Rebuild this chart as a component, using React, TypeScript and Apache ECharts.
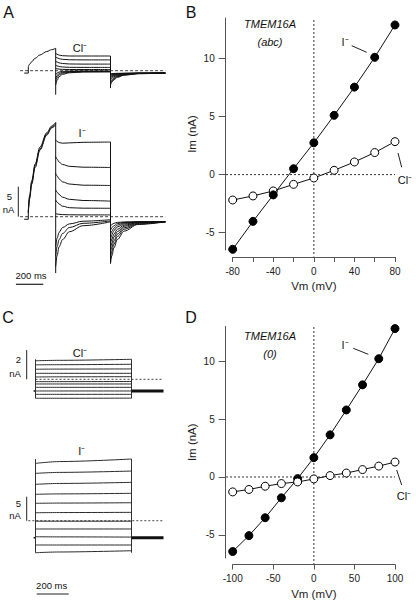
import React, { useEffect, useRef } from "react";
import * as echarts from "echarts";

const FONT = "'Liberation Sans', Arial, Helvetica, sans-serif";
const INK = "#111";
const AXIS = "#555";

// ---------- Panel B : TMEM16A (abc) I-V ----------
const B_VM = [-80, -60, -40, -20, 0, 20, 40, 60, 80];
const B_IODIDE = [-6.44, -4.03, -1.75, 0.51, 2.74, 5.11, 7.54, 10.11, 12.9];
const B_CHLORIDE = [-2.19, -1.84, -1.41, -0.84, -0.29, 0.37, 1.09, 1.9, 2.84];
const B_X_TICKS = [-80, -60, -40, -20, 0, 20, 40, 60, 80];
const B_X_LABELS = [-80, -40, 0, 40, 80];
const IV_Y_TICKS = [-5, 0, 5, 10];

// ---------- Panel D : TMEM16A (0) I-V ----------
const D_VM = [-100, -80, -60, -40, -20, 0, 20, 40, 60, 80, 100];
const D_IODIDE = [-6.44, -5.07, -3.52, -1.8, -0.14, 1.67, 3.64, 5.79, 7.96, 10.22, 12.82];
const D_CHLORIDE = [-1.29, -1.08, -0.8, -0.57, -0.43, -0.17, 0.12, 0.34, 0.64, 0.94, 1.29];
const D_X_TICKS = [-100, -50, 0, 50, 100];

// ---------- Panel A : current traces (ms, nA) ----------
const A_HOLD_T = [-30, 0];
const A_PRE_T = [0, 10, 25, 50, 85, 135, 170, 200];
const A_TEST_T = [200, 210, 225, 250, 300, 400, 600];
const A_TAIL_T = [600, 610, 625, 650, 700, 800, 1000];

const A_CL_HOLD = -0.4;
const A_CL_PRE = [0.67, 1.1, 1.5, 2.07, 2.62, 3.2, 3.5, 3.73];
const A_CL_TEST = [
  [2.9, 2.75, 2.6, 2.5, 2.45, 2.45, 2.45],
  [2.3, 2.15, 2.0, 1.9, 1.82, 1.8, 1.8],
  [1.6, 1.45, 1.3, 1.2, 1.12, 1.1, 1.1],
  [0.95, 0.8, 0.7, 0.62, 0.56, 0.55, 0.55],
  [0.4, 0.32, 0.26, 0.22, 0.2, 0.2, 0.2],
  [-0.7, -0.4, -0.22, -0.12, -0.06, -0.05, -0.05],
  [-1.3, -0.8, -0.45, -0.28, -0.15, -0.1, -0.1],
  [-1.8, -1.15, -0.7, -0.42, -0.25, -0.16, -0.15],
  [-2.4, -1.6, -1.0, -0.6, -0.35, -0.22, -0.2],
];
const A_CL_TAIL = [
  [-2.4, -1.9, -1.5, -1.1, -0.75, -0.5, -0.4],
  [-2.1, -1.7, -1.35, -1.0, -0.7, -0.48, -0.4],
  [-1.8, -1.5, -1.2, -0.9, -0.65, -0.47, -0.4],
  [-1.5, -1.25, -1.0, -0.8, -0.6, -0.45, -0.4],
  [-1.2, -1.0, -0.85, -0.7, -0.55, -0.44, -0.4],
  [-1.0, -0.85, -0.72, -0.6, -0.5, -0.43, -0.4],
  [-0.8, -0.7, -0.62, -0.54, -0.47, -0.42, -0.4],
  [-0.65, -0.6, -0.55, -0.5, -0.45, -0.41, -0.4],
  [-0.5, -0.48, -0.46, -0.44, -0.42, -0.4, -0.4],
];
const A_CL_SPIKES = [-4.0, -2.9];

const A_I_HOLD = -0.43;
const A_I_PRE = [
  [1.0, 3.6, 6.0, 8.8, 11.6, 14.0, 15.1, 15.7],
  [0.8, 3.3, 5.7, 8.5, 11.3, 13.8, 14.9, 15.5],
  [0.6, 3.0, 5.4, 8.2, 11.1, 13.6, 14.8, 15.3],
];
const A_I_TEST = [
  [12.8, 12.55, 12.35, 12.25, 12.3, 12.4, 12.45],
  [10.0, 9.6, 9.1, 8.7, 8.4, 8.25, 8.2],
  [7.2, 6.8, 6.3, 5.8, 5.45, 5.25, 5.2],
  [4.45, 4.1, 3.7, 3.25, 2.9, 2.7, 2.6],
  [2.78, 2.45, 2.1, 1.75, 1.5, 1.42, 1.4],
  [0.5, 0.45, 0.4, 0.35, 0.32, 0.3, 0.3],
  [-5.0, -3.6, -2.6, -1.8, -1.2, -0.75, -0.5],
  [-6.6, -5.0, -3.8, -2.8, -1.8, -1.1, -0.7],
  [-8.3, -6.5, -5.0, -3.8, -2.5, -1.5, -0.85],
];
const A_I_TAIL = [
  [-7.8, -6.5, -5.2, -3.8, -2.4, -1.3, -0.85],
  [-7.0, -5.8, -4.6, -3.3, -2.1, -1.2, -0.85],
  [-6.2, -5.1, -4.0, -2.9, -1.85, -1.1, -0.85],
  [-5.4, -4.4, -3.4, -2.5, -1.6, -1.0, -0.85],
  [-4.6, -3.7, -2.9, -2.1, -1.4, -0.95, -0.85],
  [-3.8, -3.0, -2.3, -1.7, -1.2, -0.9, -0.85],
  [-3.0, -2.4, -1.9, -1.4, -1.05, -0.88, -0.85],
  [-2.3, -1.8, -1.5, -1.15, -0.95, -0.86, -0.85],
  [-1.6, -1.3, -1.1, -0.95, -0.88, -0.85, -0.85],
];
const A_I_SPIKES = [-9.4, -7.8];

// ---------- Panel C : current traces (ms, nA) ----------
const C_HOLD_T = [-12, 0];
const C_TEST_T = [0, 150, 600];
const C_TAIL_T = [600, 800];
const C_CL_START = [1.27, 0.99, 0.69, 0.41, 0.16, -0.16, -0.32, -0.55, -0.8, -1.03, -1.3];
const C_CL_MID = [1.3, 1.0, 0.7, 0.41, 0.17, -0.16, -0.32, -0.55, -0.8, -1.03, -1.3];
const C_CL_END = [1.37, 1.03, 0.71, 0.41, 0.18, -0.15, -0.32, -0.55, -0.8, -1.03, -1.29];
const C_CL_HOLD = -0.8;
const C_I_START = [11.93, 9.85, 7.57, 5.49, 3.62, 1.66, -0.1, -1.72, -3.33, -5.05, -6.65];
const C_I_MID = [12.3, 10.05, 7.75, 5.58, 3.67, 1.7, -0.1, -1.72, -3.36, -5.05, -6.5];
const C_I_END = [12.83, 10.33, 7.98, 5.7, 3.74, 1.74, -0.1, -1.72, -3.4, -5.05, -6.24];
const C_I_HOLD = -3.53;

function pairs(t: number[], v: number[]) {
  return t.map((x, i) => [x, v[i]]);
}

export default function App() {
  const ref = useRef<HTMLDivElement>(null);

  useEffect(() => {
    const chart = echarts.init(ref.current!, null, { renderer: "svg" });

    const gridBoxes = [
      { left: 14.6, top: 34.7, width: 150.7, height: 72 }, // 0 A Cl
      { left: 14.6, top: 108.7, width: 150.7, height: 180 }, // 1 A I
      { left: 19.5, top: 350.1, width: 144, height: 58.4 }, // 2 C Cl
      { left: 19.5, top: 453.4, width: 144, height: 105.8 }, // 3 C I
      { left: 232.7, top: 18, width: 162.3, height: 232 }, // 4 B
      { left: 232.7, top: 326.5, width: 162.3, height: 231.5 }, // 5 D
    ];
    const grid = gridBoxes.map((g) => ({ ...g, containLabel: false, outerBoundsMode: "none", show: false }));

    const hiddenX = (gi: number, min: number, max: number) => ({
      type: "value", gridIndex: gi, min, max, show: false,
    });
    const hiddenY = (gi: number, min: number, max: number) => ({
      type: "value", gridIndex: gi, min, max, show: false,
    });
    const ivX = (gi: number, min: number, max: number, ticks: number[], labels: number[], offset: number) => ({
      type: "value", gridIndex: gi, min, max, offset,
      axisLine: { show: true, onZero: false, lineStyle: { color: AXIS, width: 1 } },
      axisTick: { show: true, customValues: ticks, length: 5, inside: false, lineStyle: { color: AXIS } },
      axisLabel: { customValues: labels, fontSize: 10, margin: 9, color: "#222", fontFamily: FONT },
      splitLine: { show: false },
      name: "Vm (mV)", nameLocation: "middle", nameGap: 23, nameMoveOverlap: false,
      nameTextStyle: { fontSize: 11.5, color: "#222", fontFamily: FONT },
    });
    const ivY = (gi: number, min: number, max: number, offset: number) => ({
      type: "value", gridIndex: gi, min, max, offset,
      axisLine: { show: true, onZero: false, lineStyle: { color: AXIS, width: 1 } },
      axisTick: { show: true, customValues: IV_Y_TICKS, length: 7, inside: false, lineStyle: { color: AXIS } },
      axisLabel: { customValues: IV_Y_TICKS, fontSize: 10, margin: 11, color: "#222", fontFamily: FONT },
      splitLine: { show: false },
      name: "Im (nA)", nameLocation: "middle", nameGap: 28, nameMoveOverlap: false,
      nameTextStyle: { fontSize: 11.5, color: "#222", fontFamily: FONT },
    });

    const xAxis = [
      hiddenX(0, -100, 1000), hiddenX(1, -100, 1000),
      hiddenX(2, -100, 800), hiddenX(3, -100, 800),
      ivX(4, -80, 80, B_X_TICKS, B_X_LABELS, 7),
      ivX(5, -100, 100, D_X_TICKS, D_X_TICKS, 6.5),
    ];
    const yAxis = [
      hiddenY(0, -6, 6), hiddenY(1, -12, 18),
      hiddenY(2, -2, 2), hiddenY(3, -8, 14),
      ivY(4, -6.5, 13.5, 7), ivY(5, -7, 13, 7),
    ];

    const series: any[] = [];
    const line = (gi: number, data: number[][], opts: any = {}) => {
      series.push({
        type: "line", xAxisIndex: gi, yAxisIndex: gi, data, showSymbol: false, symbol: "none",
        silent: true, clip: false, z: opts.z ?? 3,
        smooth: opts.smooth ?? false, smoothMonotone: "x",
        lineStyle: { color: opts.color ?? INK, width: opts.width ?? 1, type: opts.type ?? "solid" },
      });
    };

    // --- Panel A, chloride (grid 0) and iodide (grid 1)
    const buildA = (gi: number, hold: number, pre: number[][], test: number[][], tail: number[][], spikes: number[]) => {
      line(gi, [[-60, 0], [1000, 0]], { type: [3, 2], color: "#444", z: 2 });
      line(gi, [[A_HOLD_T[0], hold], [A_HOLD_T[1], hold], [0, pre[0][0]]]);
      pre.forEach((p) => line(gi, pairs(A_PRE_T, p), { smooth: 0.35 }));
      const preEnd = Math.max(...pre.map((p) => p[p.length - 1]));
      line(gi, [[200, preEnd], [200, spikes[0]]]);
      test.forEach((tr) => line(gi, pairs(A_TEST_T, tr), { smooth: 0.35 }));
      const testEnd = Math.max(...test.map((tr) => tr[tr.length - 1]));
      line(gi, [[600, testEnd], [600, spikes[1]]]);
      tail.forEach((tr) => line(gi, pairs(A_TAIL_T, tr), { smooth: 0.35 }));
    };
    buildA(0, A_CL_HOLD, [A_CL_PRE], A_CL_TEST, A_CL_TAIL, A_CL_SPIKES);
    buildA(1, A_I_HOLD, A_I_PRE, A_I_TEST, A_I_TAIL, A_I_SPIKES);

    // --- Panel C
    const buildC = (gi: number, start: number[], mid: number[], end: number[], hold: number, dashFrom: number) => {
      line(gi, [[dashFrom, 0], [800, 0]], { type: [2, 2], color: "#444", z: 2 });
      line(gi, pairs(C_HOLD_T, [hold, hold]), { width: 1.5 });
      const all = [...start, ...end];
      line(gi, [[0, Math.max(...all)], [0, Math.min(...all)]], { color: "#333" });
      line(gi, [[600, Math.max(...all)], [600, Math.min(...all)]], { color: "#333" });
      start.forEach((s, i) => line(gi, pairs(C_TEST_T, [s, mid[i], end[i]]), { color: "#2a2a2a", width: 1, smooth: 0.3 }));
      line(gi, pairs(C_TAIL_T, [hold, hold]), { width: 3, color: "#111" });
    };
    buildC(2, C_CL_START, C_CL_MID, C_CL_END, C_CL_HOLD, 0);
    buildC(3, C_I_START, C_I_MID, C_I_END, C_I_HOLD, -45);

    // --- Panels B and D (I-V)
    const ivSeries = (gi: number, vm: number[], vals: number[], filled: boolean, z: number) => {
      series.push({
        type: "line", xAxisIndex: gi, yAxisIndex: gi, data: pairs(vm, vals), z,
        symbol: "circle", symbolSize: 8, showSymbol: true, silent: true,
        lineStyle: { color: INK, width: 1 },
        itemStyle: filled ? { color: "#000", borderColor: "#000", borderWidth: 1 } : { color: "#fff", borderColor: "#000", borderWidth: 1 },
      });
    };
    ivSeries(4, B_VM, B_CHLORIDE, false, 4);
    ivSeries(4, B_VM, B_IODIDE, true, 5);
    ivSeries(5, D_VM, D_IODIDE, true, 4);
    ivSeries(5, D_VM, D_CHLORIDE, false, 5);

    chart.setOption({
      animation: false,
      backgroundColor: "#fff",
      textStyle: { fontFamily: FONT },
      grid, xAxis, yAxis, series,
    });

    // ---------- Annotations (positions derived from the axes where possible)
    const px = (gi: number, p: number[]) => chart.convertToPixel({ gridIndex: gi } as any, p) as number[];
    const txt = (x: number, y: number, text: string, size = 11, extra: any = {}) => ({
      type: "text", x, y, z: 10, silent: true,
      style: {
        text, fill: "#111", font: `${extra.italic ? "italic " : ""}${size}px ${FONT}`,
        align: extra.align ?? "center", verticalAlign: "middle",
        textAlign: extra.align ?? "center", textVerticalAlign: "middle",
      },
    });
    const seg = (x1: number, y1: number, x2: number, y2: number, extra: any = {}) => ({
      type: "line", z: extra.z ?? 10, silent: true,
      shape: { x1, y1, x2, y2 },
      style: { stroke: extra.color ?? "#222", lineWidth: extra.width ?? 1, lineDash: extra.dash ?? null },
    });

    const graphic: any[] = [];
    // panel letters
    graphic.push(txt(8.5, 12, "A", 16), txt(191, 12, "B", 16), txt(8, 317, "C", 16), txt(191, 317, "D", 16));

    // B / D dashed zero lines
    const b0 = px(4, [0, 0]);
    graphic.push(seg(b0[0], 20, b0[0], 256.5, { dash: [2, 2], color: "#333", z: 1 }));
    graphic.push(seg(226, b0[1], 395, b0[1], { dash: [2, 2], color: "#333", z: 1 }));
    const d0 = px(5, [0, 0]);
    graphic.push(seg(d0[0], 327, d0[0], 564, { dash: [2, 2], color: "#333", z: 1 }));
    graphic.push(seg(226, d0[1], 395, d0[1], { dash: [2, 2], color: "#333", z: 1 }));

    // B annotations
    graphic.push(txt(270, 24, "TMEM16A", 11, { italic: true }), txt(270, 42, "(abc)", 11, { italic: true }));
    graphic.push(txt(345, 41.5, "I⁻", 11), seg(351.7, 45.7, 366.7, 52.3));
    graphic.push(txt(405, 179.5, "Cl⁻", 11), seg(398, 153, 401.7, 167.3));
    // D annotations
    graphic.push(txt(270, 336, "TMEM16A", 11, { italic: true }), txt(270, 354, "(0)", 11, { italic: true }));
    graphic.push(txt(345, 345, "I⁻", 11), seg(353.3, 348.3, 368.3, 354.3));
    graphic.push(txt(404, 496, "Cl⁻", 11), seg(396.7, 470, 401.7, 485));

    // A labels & scale bars
    graphic.push(txt(80, 47.5, "Cl⁻", 11), txt(82, 133, "I⁻", 11));
    const aZero = px(1, [0, 0]), aFive = px(1, [0, 5]);
    graphic.push(seg(18.3, aFive[1], 18.3, aZero[1]));
    graphic.push(txt(9.5, 196.5, "5", 9.5), txt(8.5, 209.5, "nA", 9.5));
    const aT0 = px(1, [0, 0]), aT200 = px(1, [200, 0]);
    const aBar = aT200[0] - aT0[0];
    graphic.push(seg(43.3 - aBar, 284.3, 43.3, 284.3, { width: 1.2 }));
    graphic.push(txt(31, 275, "200 ms", 9.5));

    // C labels & scale bars
    graphic.push(txt(80, 353.3, "Cl⁻", 11), txt(81.7, 451, "I⁻", 11));
    const cClZero = px(2, [0, 0]), cClTwo = px(2, [0, 2]);
    graphic.push(seg(26.7, cClTwo[1], 26.7, cClZero[1]));
    graphic.push(txt(18.5, 359.3, "2", 9.5), txt(15, 373.3, "nA", 9.5));
    const cIZero = px(3, [0, 0]), cIFive = px(3, [0, 5]);
    graphic.push(seg(26.7, cIFive[1], 26.7, cIZero[1]));
    graphic.push(txt(18.5, 503.3, "5", 9.5), txt(15, 515, "nA", 9.5));
    const cT0 = px(3, [0, 0]), cT200 = px(3, [200, 0]);
    graphic.push(seg(36.7, 594, 36.7 + (cT200[0] - cT0[0]), 594, { width: 1 }));
    graphic.push(txt(51.7, 585, "200 ms", 9.5));

    chart.setOption({ graphic });

    return () => chart.dispose();
  }, []);

  return (
    <div
      ref={ref}
      style={{ position: "absolute", left: 0, top: 0, width: 416, height: 603, background: "#fff" }}
    />
  );
}
